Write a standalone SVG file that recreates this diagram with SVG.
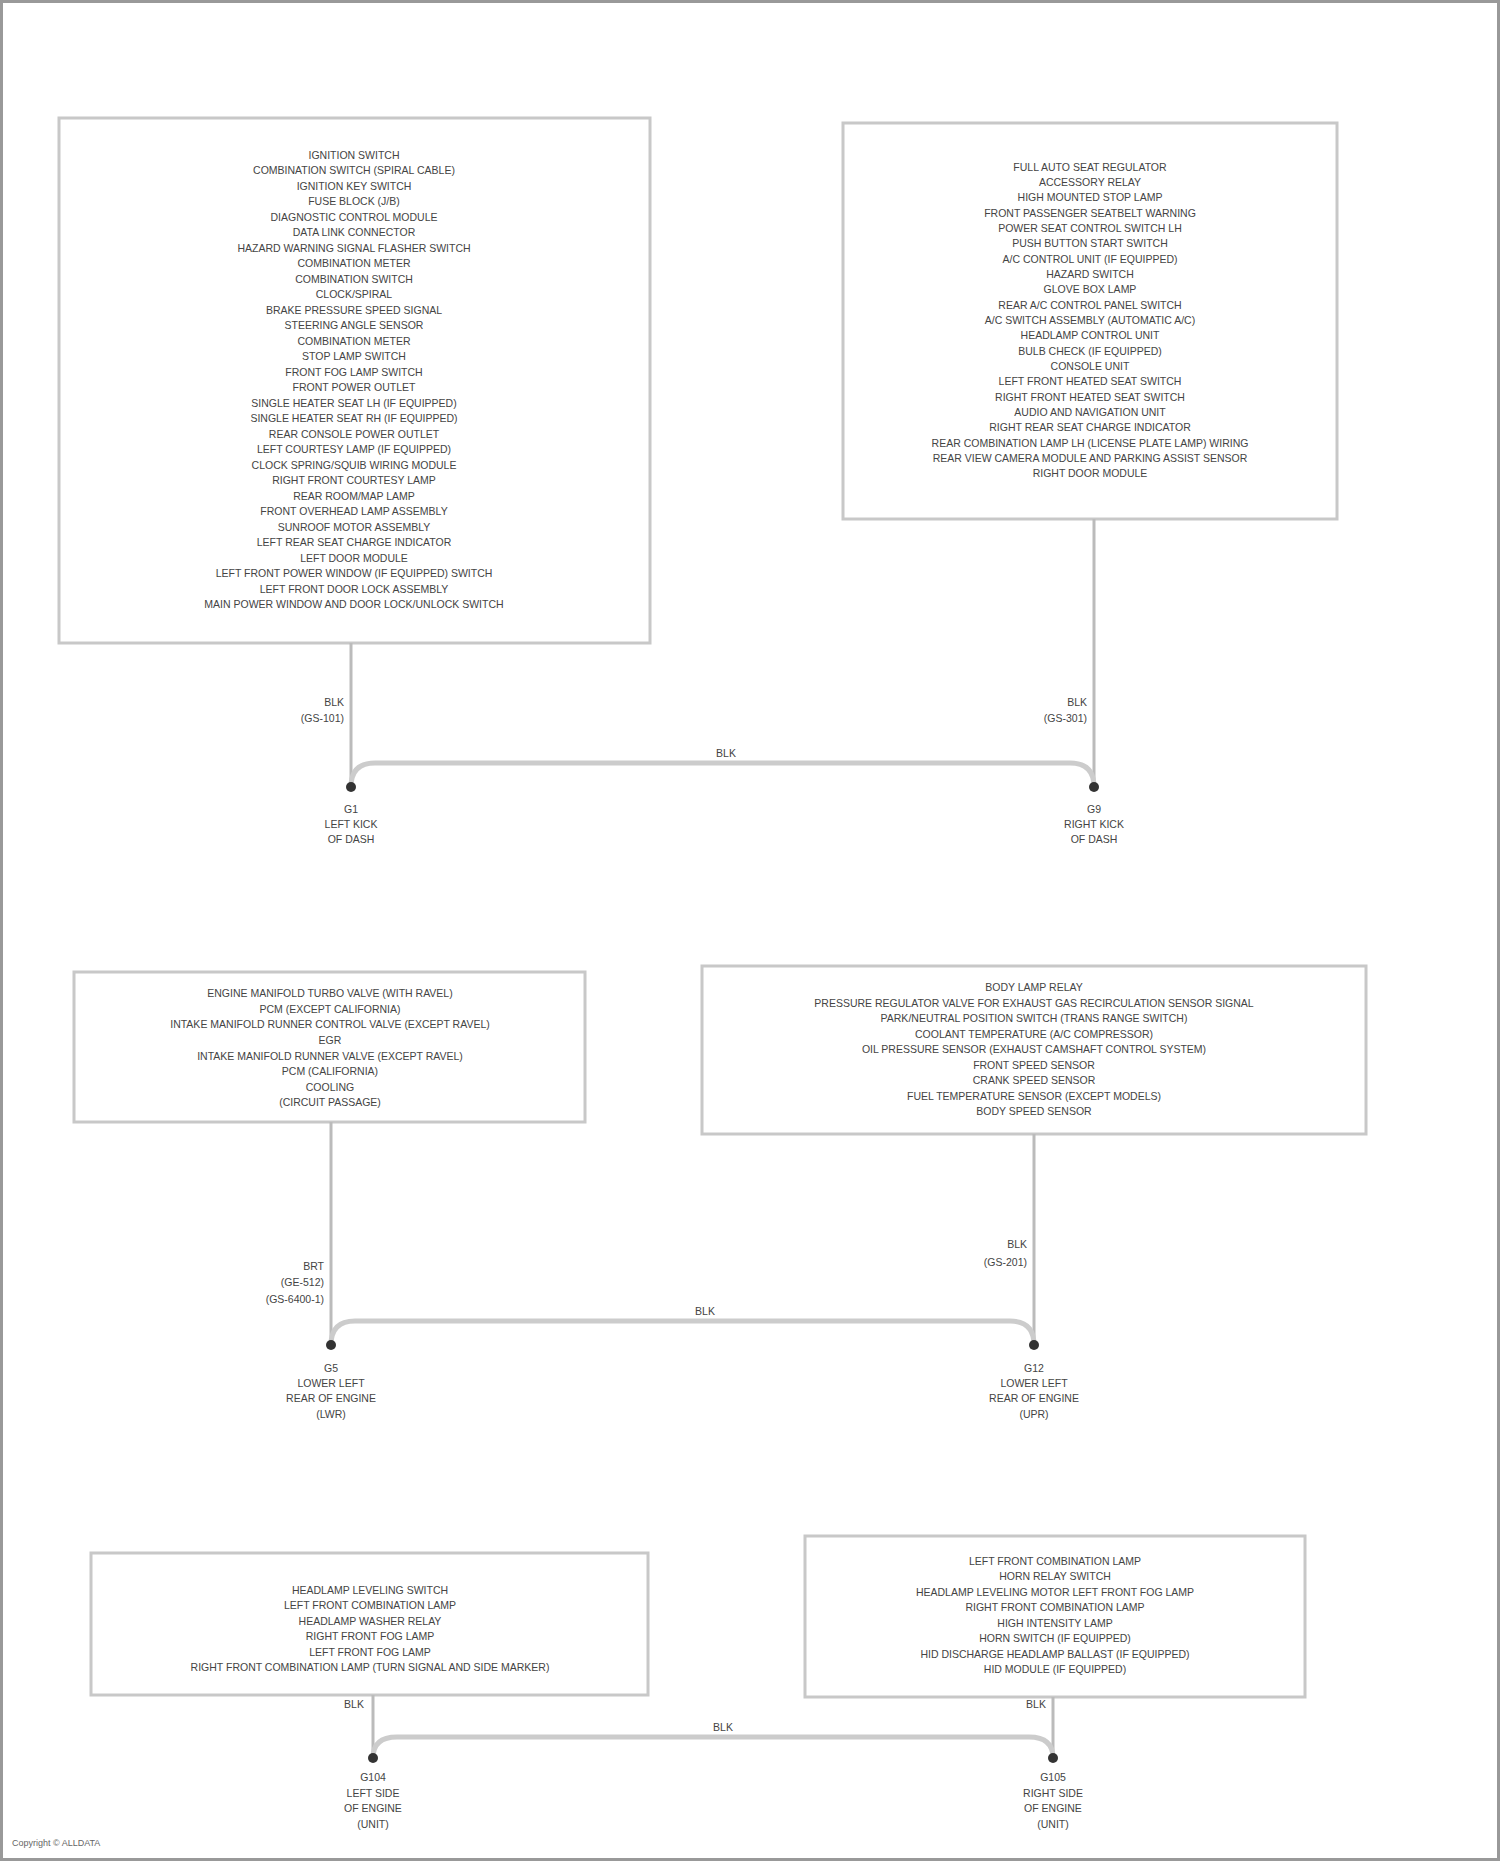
<svg xmlns="http://www.w3.org/2000/svg" width="1500" height="1861" viewBox="0 0 1500 1861">
<style>
.bx{fill:#fff;stroke:#c8c8c8;stroke-width:3}
.t{font-family:"Liberation Sans",Arial,sans-serif;font-size:10.5px;fill:#444;text-anchor:middle}
.l{font-family:"Liberation Sans",Arial,sans-serif;font-size:10.5px;fill:#444;text-anchor:end}
.w{fill:none;stroke:#bbb;stroke-width:3}
.bus{fill:none;stroke:#ccc;stroke-width:5}
.d{fill:#333}
</style>
<rect x="1.5" y="1.5" width="1497" height="1858" fill="#fff" stroke="#999" stroke-width="3"/>
<g id="n1">
<rect class="bx" x="59" y="118" width="591" height="525"/>
<text class="t" x="354" y="159">IGNITION SWITCH</text>
<text class="t" x="354" y="174">COMBINATION SWITCH (SPIRAL CABLE)</text>
<text class="t" x="354" y="190">IGNITION KEY SWITCH</text>
<text class="t" x="354" y="205">FUSE BLOCK (J/B)</text>
<text class="t" x="354" y="221">DIAGNOSTIC CONTROL MODULE</text>
<text class="t" x="354" y="236">DATA LINK CONNECTOR</text>
<text class="t" x="354" y="252">HAZARD WARNING SIGNAL FLASHER SWITCH</text>
<text class="t" x="354" y="267">COMBINATION METER</text>
<text class="t" x="354" y="283">COMBINATION SWITCH</text>
<text class="t" x="354" y="298">CLOCK/SPIRAL</text>
<text class="t" x="354" y="314">BRAKE PRESSURE SPEED SIGNAL</text>
<text class="t" x="354" y="329">STEERING ANGLE SENSOR</text>
<text class="t" x="354" y="345">COMBINATION METER</text>
<text class="t" x="354" y="360">STOP LAMP SWITCH</text>
<text class="t" x="354" y="376">FRONT FOG LAMP SWITCH</text>
<text class="t" x="354" y="391">FRONT POWER OUTLET</text>
<text class="t" x="354" y="407">SINGLE HEATER SEAT LH (IF EQUIPPED)</text>
<text class="t" x="354" y="422">SINGLE HEATER SEAT RH (IF EQUIPPED)</text>
<text class="t" x="354" y="438">REAR CONSOLE POWER OUTLET</text>
<text class="t" x="354" y="453">LEFT COURTESY LAMP (IF EQUIPPED)</text>
<text class="t" x="354" y="469">CLOCK SPRING/SQUIB WIRING MODULE</text>
<text class="t" x="354" y="484">RIGHT FRONT COURTESY LAMP</text>
<text class="t" x="354" y="500">REAR ROOM/MAP LAMP</text>
<text class="t" x="354" y="515">FRONT OVERHEAD LAMP ASSEMBLY</text>
<text class="t" x="354" y="531">SUNROOF MOTOR ASSEMBLY</text>
<text class="t" x="354" y="546">LEFT REAR SEAT CHARGE INDICATOR</text>
<text class="t" x="354" y="562">LEFT DOOR MODULE</text>
<text class="t" x="354" y="577">LEFT FRONT POWER WINDOW (IF EQUIPPED) SWITCH</text>
<text class="t" x="354" y="593">LEFT FRONT DOOR LOCK ASSEMBLY</text>
<text class="t" x="354" y="608">MAIN POWER WINDOW AND DOOR LOCK/UNLOCK SWITCH</text>
</g>
<g id="n2">
<rect class="bx" x="843" y="123" width="494" height="396"/>
<text class="t" x="1090" y="171">FULL AUTO SEAT REGULATOR</text>
<text class="t" x="1090" y="186">ACCESSORY RELAY</text>
<text class="t" x="1090" y="201">HIGH MOUNTED STOP LAMP</text>
<text class="t" x="1090" y="217">FRONT PASSENGER SEATBELT WARNING</text>
<text class="t" x="1090" y="232">POWER SEAT CONTROL SWITCH LH</text>
<text class="t" x="1090" y="247">PUSH BUTTON START SWITCH</text>
<text class="t" x="1090" y="263">A/C CONTROL UNIT (IF EQUIPPED)</text>
<text class="t" x="1090" y="278">HAZARD SWITCH</text>
<text class="t" x="1090" y="293">GLOVE BOX LAMP</text>
<text class="t" x="1090" y="309">REAR A/C CONTROL PANEL SWITCH</text>
<text class="t" x="1090" y="324">A/C SWITCH ASSEMBLY (AUTOMATIC A/C)</text>
<text class="t" x="1090" y="339">HEADLAMP CONTROL UNIT</text>
<text class="t" x="1090" y="355">BULB CHECK (IF EQUIPPED)</text>
<text class="t" x="1090" y="370">CONSOLE UNIT</text>
<text class="t" x="1090" y="385">LEFT FRONT HEATED SEAT SWITCH</text>
<text class="t" x="1090" y="401">RIGHT FRONT HEATED SEAT SWITCH</text>
<text class="t" x="1090" y="416">AUDIO AND NAVIGATION UNIT</text>
<text class="t" x="1090" y="431">RIGHT REAR SEAT CHARGE INDICATOR</text>
<text class="t" x="1090" y="447">REAR COMBINATION LAMP LH (LICENSE PLATE LAMP) WIRING</text>
<text class="t" x="1090" y="462">REAR VIEW CAMERA MODULE AND PARKING ASSIST SENSOR</text>
<text class="t" x="1090" y="477">RIGHT DOOR MODULE</text>
</g>
<g id="n3">
<rect class="bx" x="74" y="972" width="511" height="150"/>
<text class="t" x="330" y="997">ENGINE MANIFOLD TURBO VALVE (WITH RAVEL)</text>
<text class="t" x="330" y="1013">PCM (EXCEPT CALIFORNIA)</text>
<text class="t" x="330" y="1028">INTAKE MANIFOLD RUNNER CONTROL VALVE (EXCEPT RAVEL)</text>
<text class="t" x="330" y="1044">EGR</text>
<text class="t" x="330" y="1060">INTAKE MANIFOLD RUNNER VALVE (EXCEPT RAVEL)</text>
<text class="t" x="330" y="1075">PCM (CALIFORNIA)</text>
<text class="t" x="330" y="1091">COOLING</text>
<text class="t" x="330" y="1106">(CIRCUIT PASSAGE)</text>
</g>
<g id="n4">
<rect class="bx" x="702" y="966" width="664" height="168"/>
<text class="t" x="1034" y="991">BODY LAMP RELAY</text>
<text class="t" x="1034" y="1007">PRESSURE REGULATOR VALVE FOR EXHAUST GAS RECIRCULATION SENSOR SIGNAL</text>
<text class="t" x="1034" y="1022">PARK/NEUTRAL POSITION SWITCH (TRANS RANGE SWITCH)</text>
<text class="t" x="1034" y="1038">COOLANT TEMPERATURE (A/C COMPRESSOR)</text>
<text class="t" x="1034" y="1053">OIL PRESSURE SENSOR (EXHAUST CAMSHAFT CONTROL SYSTEM)</text>
<text class="t" x="1034" y="1069">FRONT SPEED SENSOR</text>
<text class="t" x="1034" y="1084">CRANK SPEED SENSOR</text>
<text class="t" x="1034" y="1100">FUEL TEMPERATURE SENSOR (EXCEPT MODELS)</text>
<text class="t" x="1034" y="1115">BODY SPEED SENSOR</text>
</g>
<g id="n5">
<rect class="bx" x="91" y="1553" width="557" height="142"/>
<text class="t" x="370" y="1594">HEADLAMP LEVELING SWITCH</text>
<text class="t" x="370" y="1609">LEFT FRONT COMBINATION LAMP</text>
<text class="t" x="370" y="1625">HEADLAMP WASHER RELAY</text>
<text class="t" x="370" y="1640">RIGHT FRONT FOG LAMP</text>
<text class="t" x="370" y="1656">LEFT FRONT FOG LAMP</text>
<text class="t" x="370" y="1671">RIGHT FRONT COMBINATION LAMP (TURN SIGNAL AND SIDE MARKER)</text>
</g>
<g id="n6">
<rect class="bx" x="805" y="1536" width="500" height="161"/>
<text class="t" x="1055" y="1565">LEFT FRONT COMBINATION LAMP</text>
<text class="t" x="1055" y="1580">HORN RELAY SWITCH</text>
<text class="t" x="1055" y="1596">HEADLAMP LEVELING MOTOR LEFT FRONT FOG LAMP</text>
<text class="t" x="1055" y="1611">RIGHT FRONT COMBINATION LAMP</text>
<text class="t" x="1055" y="1627">HIGH INTENSITY LAMP</text>
<text class="t" x="1055" y="1642">HORN SWITCH (IF EQUIPPED)</text>
<text class="t" x="1055" y="1658">HID DISCHARGE HEADLAMP BALLAST (IF EQUIPPED)</text>
<text class="t" x="1055" y="1673">HID MODULE (IF EQUIPPED)</text>
</g>
<g id="connectors">
<path class="w" d="M351 643V787"/>
<path class="w" d="M1094 519V787"/>
<path class="bus" d="M351 787Q351 763 375 763H1070Q1094 763 1094 787"/>
<path class="w" d="M331 1122V1345"/>
<path class="w" d="M1034 1134V1345"/>
<path class="bus" d="M331 1345Q331 1321 355 1321H1010Q1034 1321 1034 1345"/>
<path class="w" d="M373 1695V1758"/>
<path class="w" d="M1053 1697V1758"/>
<path class="bus" d="M373 1758Q373 1737 397 1737H1029Q1053 1737 1053 1758"/>
<circle class="d" cx="351" cy="787" r="5"/>
<circle class="d" cx="1094" cy="787" r="5"/>
<circle class="d" cx="331" cy="1345" r="5"/>
<circle class="d" cx="1034" cy="1345" r="5"/>
<circle class="d" cx="373" cy="1758" r="5"/>
<circle class="d" cx="1053" cy="1758" r="5"/>
<text class="l" x="344" y="706">BLK</text>
<text class="l" x="344" y="722">(GS-101)</text>
<text class="l" x="1087" y="706">BLK</text>
<text class="l" x="1087" y="722">(GS-301)</text>
<text class="t" x="726" y="757">BLK</text>
<text class="t" x="351" y="813">G1</text>
<text class="t" x="351" y="828">LEFT KICK</text>
<text class="t" x="351" y="843">OF DASH</text>
<text class="t" x="1094" y="813">G9</text>
<text class="t" x="1094" y="828">RIGHT KICK</text>
<text class="t" x="1094" y="843">OF DASH</text>
<text class="l" x="324" y="1270">BRT</text>
<text class="l" x="324" y="1286">(GE-512)</text>
<text class="l" x="324" y="1303">(GS-6400-1)</text>
<text class="l" x="1027" y="1248">BLK</text>
<text class="l" x="1027" y="1266">(GS-201)</text>
<text class="t" x="705" y="1315">BLK</text>
<text class="t" x="331" y="1372">G5</text>
<text class="t" x="331" y="1387">LOWER LEFT</text>
<text class="t" x="331" y="1402">REAR OF ENGINE</text>
<text class="t" x="331" y="1418">(LWR)</text>
<text class="t" x="1034" y="1372">G12</text>
<text class="t" x="1034" y="1387">LOWER LEFT</text>
<text class="t" x="1034" y="1402">REAR OF ENGINE</text>
<text class="t" x="1034" y="1418">(UPR)</text>
<text class="t" x="354" y="1708">BLK</text>
<text class="t" x="1036" y="1708">BLK</text>
<text class="t" x="723" y="1731">BLK</text>
<text class="t" x="373" y="1781">G104</text>
<text class="t" x="373" y="1797">LEFT SIDE</text>
<text class="t" x="373" y="1812">OF ENGINE</text>
<text class="t" x="373" y="1828">(UNIT)</text>
<text class="t" x="1053" y="1781">G105</text>
<text class="t" x="1053" y="1797">RIGHT SIDE</text>
<text class="t" x="1053" y="1812">OF ENGINE</text>
<text class="t" x="1053" y="1828">(UNIT)</text>
</g>
<text x="12" y="1846" font-family="Liberation Sans, Arial, sans-serif" font-size="9" fill="#666">Copyright © ALLDATA</text>
</svg>
